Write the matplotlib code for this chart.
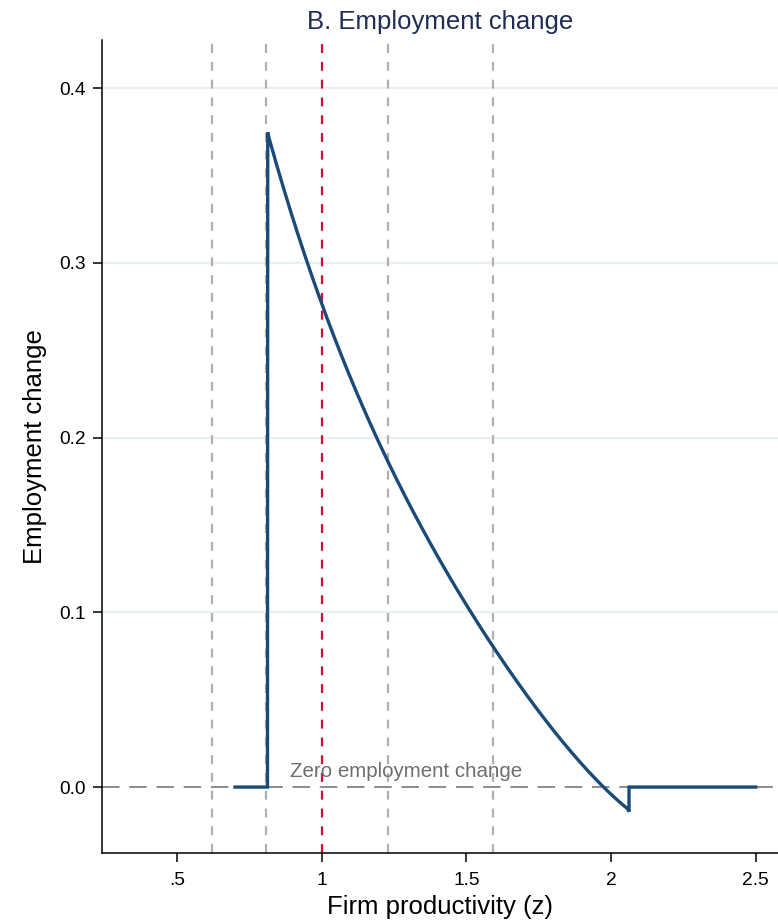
"""
Panel B: employment change by firm productivity
"""
import matplotlib
matplotlib.use('Agg')
import matplotlib.pyplot as plt
import numpy as np

# ###
# data
# ###
# main curve: employment change against firm productivity z
z_curve = [0.70, 0.812, 0.813, 0.931, 0.953, 0.995, 1.190, 1.294, 1.339,
           1.506, 1.593, 1.685, 1.823, 1.985, 2.062, 2.062, 2.50]
emp_change = [0.0, 0.0, 0.3746, 0.307, 0.300, 0.2787, 0.200, 0.165, 0.151,
              0.100, 0.0824, 0.0574, 0.0269, 0.0, -0.0141, 0.0, 0.0]

# vertical reference lines (productivity cutoffs)
z_cutoffs_gray = [0.621, 0.807, 1.229, 1.593]
z_cutoff_red = 1.0

x_ticks = [0.5, 1.0, 1.5, 2.0, 2.5]
x_tick_labels = ['.5', '1', '1.5', '2', '2.5']
y_ticks = [0.0, 0.1, 0.2, 0.3, 0.4]
y_tick_labels = ['0.0', '0.1', '0.2', '0.3', '0.4']

# figure variables
COLOR_LINE = '#1a4a78'
COLOR_GRID = '#e9f0f3'
COLOR_CUT = '#b0b0b0'
COLOR_RED = '#d40b3c'
COLOR_TITLE = '#1f2d55'
FONT = 'Liberation Sans'


def smooth_curve(z, y):
    # piecewise: keep jumps sharp, interpolate smoothly along the decreasing part
    z = np.asarray(z)
    y = np.asarray(y)
    seg_z = z[2:15]
    seg_y = y[2:15]
    fine = np.linspace(seg_z[0], seg_z[-1], 300)
    coef = np.polyfit(seg_z, seg_y, 4)
    fitted = np.polyval(coef, fine)
    fitted[0] = seg_y[0]
    fitted[-1] = seg_y[-1]
    zz = np.concatenate([z[:2], fine, z[15:]])
    yy = np.concatenate([y[:2], fitted, y[15:]])
    return zz, yy


def main_function():
    plt.rcParams['font.family'] = [FONT, 'DejaVu Sans']
    fig = plt.figure(figsize=(7.78, 9.21), dpi=100, facecolor='w')
    ax = fig.add_axes([0.1311, 0.0735, 0.8689, 0.8831])

    # grid
    for yv in y_ticks[1:]:
        ax.axhline(yv, color=COLOR_GRID, linewidth=1.6, zorder=0)

    # zero line
    ax.axhline(0.0, color='#8c8c8c', linewidth=1.4, dashes=(9, 5), zorder=1)
    ax.text(0.89, 0.0032, 'Zero employment change', color='#6e6e6e',
            fontsize=14.8, ha='left', va='bottom', zorder=2)

    # cutoffs
    for zc in z_cutoffs_gray:
        ax.axvline(zc, color=COLOR_CUT, linewidth=1.6, dashes=(4, 4), zorder=1)
    ax.axvline(z_cutoff_red, color=COLOR_RED, linewidth=1.6, dashes=(4, 4), zorder=1)

    # curve
    zz, yy = smooth_curve(z_curve, emp_change)
    ax.plot(zz, yy, color=COLOR_LINE, linewidth=2.4, zorder=3,
            solid_joinstyle='miter')

    # axes setting
    ax.set_xlim(0.24, 2.577)
    ax.set_ylim(-0.0379, 0.4275)
    ax.set_xticks(x_ticks)
    ax.set_xticklabels(x_tick_labels)
    ax.set_yticks(y_ticks)
    ax.set_yticklabels(y_tick_labels)
    ax.tick_params(axis='both', labelsize=13.8, length=6.5, width=1.1,
                   direction='out', colors='black')
    ax.tick_params(axis='x', pad=7)
    ax.tick_params(axis='y', pad=5)
    for side in ['top', 'right']:
        ax.spines[side].set_visible(False)
    for side in ['left', 'bottom']:
        ax.spines[side].set_linewidth(1.1)

    ax.set_xlabel('Firm productivity (z)', fontsize=18.5, labelpad=4)
    ax.set_ylabel('Employment change', fontsize=18.5, labelpad=9)
    ax.set_title('B. Employment change', fontsize=18.5, color=COLOR_TITLE, pad=8)

    fig.savefig('out.png', dpi=100, facecolor='w')
    plt.close(fig)


if __name__ == '__main__':
    main_function()
